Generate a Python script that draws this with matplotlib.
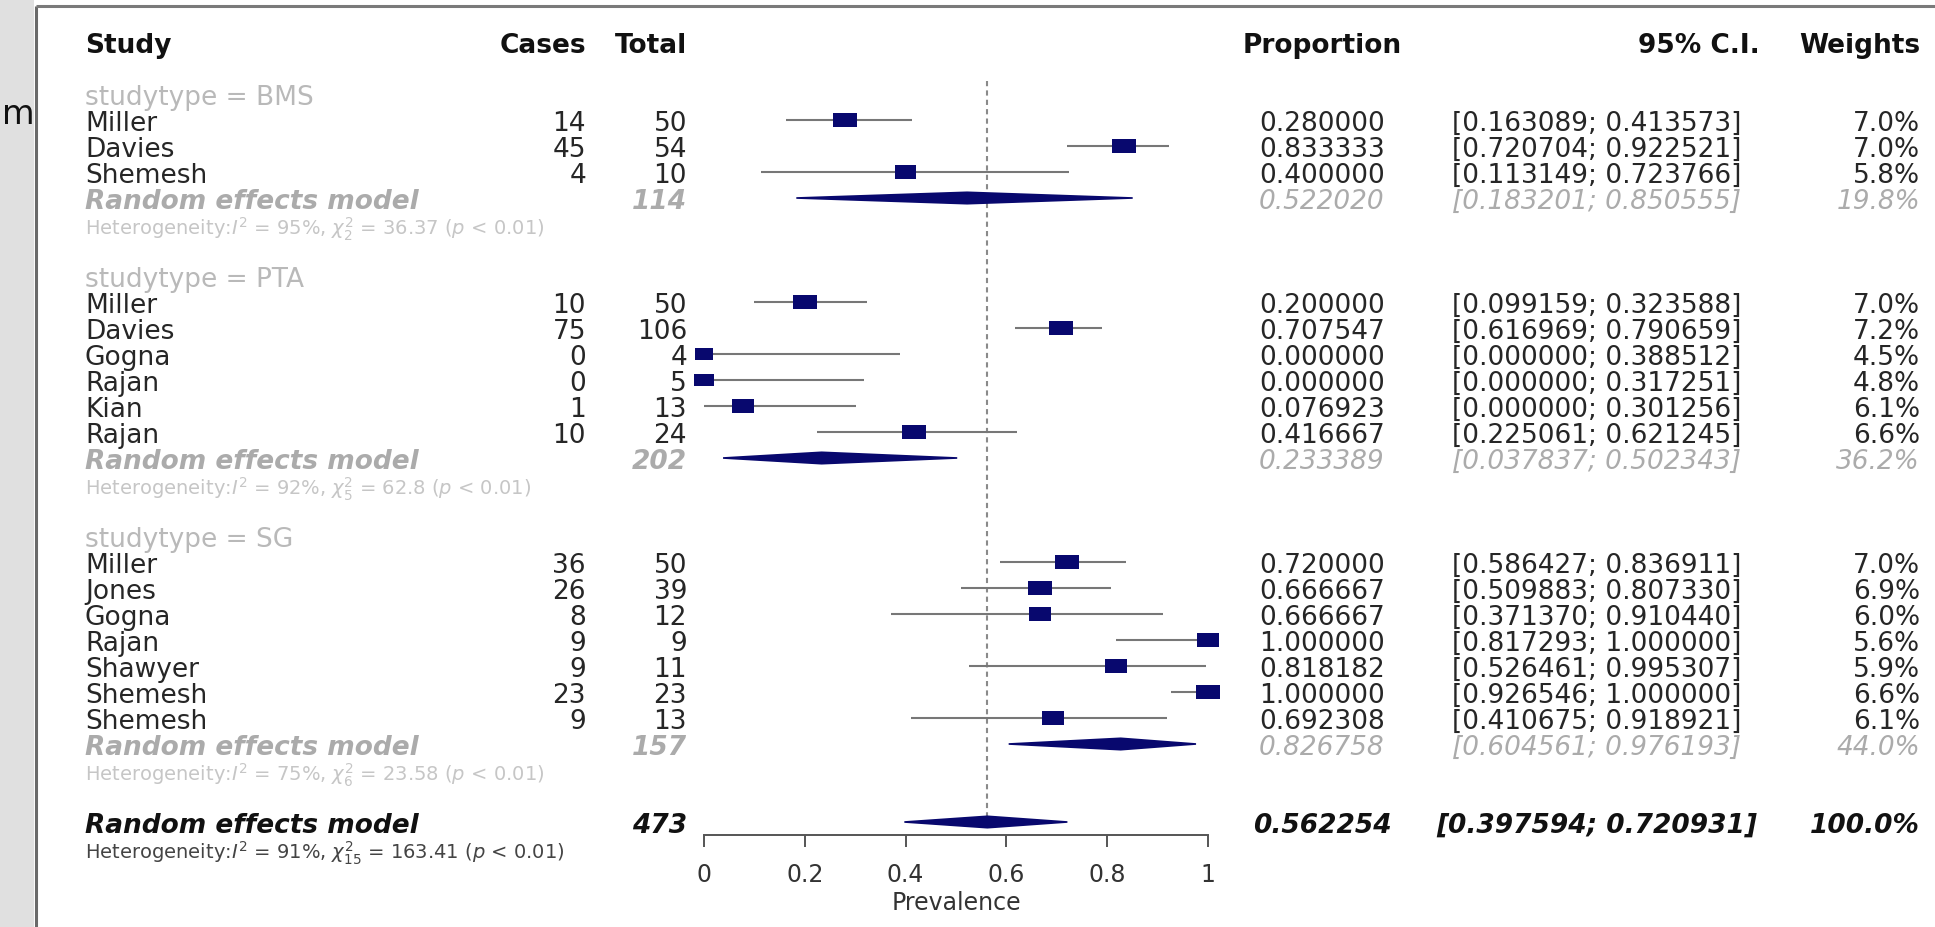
import matplotlib.pyplot as plt
from matplotlib.patches import Rectangle, Polygon
import numpy as np

plt.rcParams['font.family'] = ['DejaVu Sans']
plt.rcParams['mathtext.fontset'] = 'dejavusans'

# ---- data ----
group_names = ['BMS', 'PTA', 'SG']

bms_study = ['Miller', 'Davies', 'Shemesh']
bms_cases = [14, 45, 4]
bms_total = [50, 54, 10]
bms_prop = [0.280000, 0.833333, 0.400000]
bms_lower = [0.163089, 0.720704, 0.113149]
bms_upper = [0.413573, 0.922521, 0.723766]
bms_weight = [7.0, 7.0, 5.8]

pta_study = ['Miller', 'Davies', 'Gogna', 'Rajan', 'Kian', 'Rajan']
pta_cases = [10, 75, 0, 0, 1, 10]
pta_total = [50, 106, 4, 5, 13, 24]
pta_prop = [0.200000, 0.707547, 0.000000, 0.000000, 0.076923, 0.416667]
pta_lower = [0.099159, 0.616969, 0.000000, 0.000000, 0.000000, 0.225061]
pta_upper = [0.323588, 0.790659, 0.388512, 0.317251, 0.301256, 0.621245]
pta_weight = [7.0, 7.2, 4.5, 4.8, 6.1, 6.6]

sg_study = ['Miller', 'Jones', 'Gogna', 'Rajan', 'Shawyer', 'Shemesh', 'Shemesh']
sg_cases = [36, 26, 8, 9, 9, 23, 9]
sg_total = [50, 39, 12, 9, 11, 23, 13]
sg_prop = [0.720000, 0.666667, 0.666667, 1.000000, 0.818182, 1.000000, 0.692308]
sg_lower = [0.586427, 0.509883, 0.371370, 0.817293, 0.526461, 0.926546, 0.410675]
sg_upper = [0.836911, 0.807330, 0.910440, 1.000000, 0.995307, 1.000000, 0.918921]
sg_weight = [7.0, 6.9, 6.0, 5.6, 5.9, 6.6, 6.1]

# random effects per subgroup
group_total = [114, 202, 157]
group_prop = [0.522020, 0.233389, 0.826758]
group_lower = [0.183201, 0.037837, 0.604561]
group_upper = [0.850555, 0.502343, 0.976193]
group_weight = [19.8, 36.2, 44.0]
group_i2 = [95, 92, 75]
group_df = [2, 5, 6]
group_q = ['36.37', '62.8', '23.58']

overall_total = 473
overall_prop = 0.562254
overall_lower = 0.397594
overall_upper = 0.720931
overall_weight = 100.0
overall_i2 = 91
overall_df = 15
overall_q = '163.41'

xticks = [0, 0.2, 0.4, 0.6, 0.8, 1]
xtick_labels = ['0', '0.2', '0.4', '0.6', '0.8', '1']

groups = [
    (bms_study, bms_cases, bms_total, bms_prop, bms_lower, bms_upper, bms_weight),
    (pta_study, pta_cases, pta_total, pta_prop, pta_lower, pta_upper, pta_weight),
    (sg_study, sg_cases, sg_total, sg_prop, sg_lower, sg_upper, sg_weight),
]

# ---- layout (pixels of the 1935x928 canvas) ----
W, H = 1935, 928
X0_PX, X1_PX = 704, 1208        # forest axis 0 .. 1
ROW0_PX, ROW_H = 95, 26         # first row centre, row height
AXIS_PX = 836                   # bottom spine
TOP_PX = 4
row_bottom = (AXIS_PX - ROW0_PX) / ROW_H
row_top = (TOP_PX - ROW0_PX) / ROW_H

STUDY_X, CASES_X, TOTAL_X = 85, 586, 687
PROP_X, CI_X, WEIGHT_X = 1322, 1597, 1920

NAVY = '#08086e'
FS = 19        # main text size
FS_HET = 14
off_main = 0.37
off_het = 0.41

c_head = '#111111'
c_text = '#262626'
c_group = '#b9b9b9'
c_re = '#ababab'
c_het = '#c6c6c6'

fig = plt.figure(figsize=(W / 100, H / 100), dpi=100)
fig.patch.set_facecolor('white')

# background: grey strip and frame
bg = fig.add_axes([0, 0, 1, 1])
bg.set_xlim(0, W)
bg.set_ylim(H, 0)
bg.axis('off')
bg.add_patch(Rectangle((0, 0), 34, H, color='#e0e0e0', lw=0))
bg.plot([36, 36], [7, H], color='#6a6a6a', lw=2.2, solid_capstyle='butt')
bg.plot([36, W], [7, 7], color='#7a7a7a', lw=2.2, solid_capstyle='butt')
bg.text(2, 114, 'm', fontsize=24, ha='left', va='center', color='#111111')

ax_pos = [0, (H - AXIS_PX) / H, 1, (AXIS_PX - TOP_PX) / H]
tax = fig.add_axes(ax_pos)
tax.set_xlim(0, W)
tax.set_ylim(row_bottom, row_top)
tax.axis('off')

fax = fig.add_axes([X0_PX / W, ax_pos[1], (X1_PX - X0_PX) / W, ax_pos[3]])
fax.set_xlim(0, 1)
fax.set_ylim(row_bottom, row_top)
fax.patch.set_visible(False)
for s in ['top', 'right', 'left']:
    fax.spines[s].set_visible(False)
fax.spines['bottom'].set_bounds(0, 1)
fax.spines['bottom'].set_color('#555555')
fax.spines['bottom'].set_linewidth(1.4)
fax.set_yticks([])
fax.set_xticks(xticks)
fax.set_xticklabels(xtick_labels)
fax.tick_params(axis='x', direction='out', length=8.6, width=1.4, color='#555555',
                labelsize=17, labelcolor='#333333', pad=11)
fax.set_xlabel('Prevalence', fontsize=17, color='#333333', labelpad=3)


def txt(x, row, s, ha='left', color=c_text, size=FS, off=off_main, **kw):
    tax.text(x, row + off, s, ha=ha, va='baseline', color=color, fontsize=size, **kw)


def square(p, lo, hi, w, row):
    fax.hlines(row, lo, hi, color='#777777', lw=1.5, zorder=2)
    s = np.sqrt(w / 7.0)
    hw, hh = 0.0235 * s, 0.28 * s
    fax.add_patch(Rectangle((p - hw, row - hh), 2 * hw, 2 * hh, color=NAVY,
                            lw=0, zorder=3, clip_on=False))


def diamond(p, lo, hi, row):
    fax.add_patch(Polygon([(lo, row), (p, row - 0.22), (hi, row), (p, row + 0.22)],
                          closed=True, facecolor=NAVY, edgecolor=NAVY, lw=1.2,
                          zorder=3, clip_on=False))


def ci(lo, hi):
    return f'[{lo:.6f}; {hi:.6f}]'


# header
txt(STUDY_X, -2, 'Study', color=c_head, weight='bold')
txt(CASES_X, -2, 'Cases', ha='right', color=c_head, weight='bold')
txt(TOTAL_X, -2, 'Total', ha='right', color=c_head, weight='bold')
txt(PROP_X, -2, 'Proportion', ha='center', color=c_head, weight='bold')
txt(1760, -2, '95% C.I.', ha='right', color=c_head, weight='bold')
txt(WEIGHT_X, -2, 'Weights', ha='right', color=c_head, weight='bold')

row = 0
for g, (study, cases, total, prop, lower, upper, weight) in enumerate(groups):
    txt(STUDY_X, row, f'studytype = {group_names[g]}', color=c_group)
    row += 1
    for i in range(len(study)):
        txt(STUDY_X, row, study[i])
        txt(CASES_X, row, str(cases[i]), ha='right')
        txt(TOTAL_X, row, str(total[i]), ha='right')
        txt(PROP_X, row, f'{prop[i]:.6f}', ha='center')
        txt(CI_X, row, ci(lower[i], upper[i]), ha='center')
        txt(WEIGHT_X, row, f'{weight[i]:.1f}%', ha='right')
        square(prop[i], lower[i], upper[i], weight[i], row)
        row += 1
    # subgroup random effects
    txt(STUDY_X, row, 'Random effects model', color=c_re, weight='bold', style='italic')
    txt(TOTAL_X, row, str(group_total[g]), ha='right', color=c_re, weight='bold', style='italic')
    txt(PROP_X, row, f'{group_prop[g]:.6f}', ha='center', color=c_re, style='italic')
    txt(CI_X, row, ci(group_lower[g], group_upper[g]), ha='center', color=c_re, style='italic')
    txt(WEIGHT_X, row, f'{group_weight[g]:.1f}%', ha='right', color=c_re, style='italic')
    diamond(group_prop[g], group_lower[g], group_upper[g], row)
    row += 1
    het = (r'Heterogeneity:$I^2$ = ' + f'{group_i2[g]}%, ' + r'$\chi^2_{' + str(group_df[g])
           + '}$ = ' + group_q[g] + r' ($p$ < 0.01)')
    txt(STUDY_X, row, het, color=c_het, size=FS_HET, off=off_het)
    row += 2

# overall
txt(STUDY_X, row, 'Random effects model', color=c_head, weight='bold', style='italic')
txt(TOTAL_X, row, str(overall_total), ha='right', color=c_head, weight='bold', style='italic')
txt(PROP_X, row, f'{overall_prop:.6f}', ha='center', color=c_head, weight='bold', style='italic')
txt(CI_X, row, ci(overall_lower, overall_upper), ha='center', color=c_head,
    weight='bold', style='italic')
txt(WEIGHT_X, row, f'{overall_weight:.1f}%', ha='right', color=c_head, weight='bold', style='italic')
diamond(overall_prop, overall_lower, overall_upper, row)
fax.vlines(overall_prop, -0.5, row, color='#8a8a8a', lw=1.5,
           linestyles=(0, (2.5, 2)), zorder=1)
het = (r'Heterogeneity:$I^2$ = ' + f'{overall_i2}%, ' + r'$\chi^2_{' + str(overall_df)
       + '}$ = ' + overall_q + r' ($p$ < 0.01)')
txt(STUDY_X, row + 1, het, color='#444444', size=FS_HET, off=off_het)

plt.savefig('out.png', dpi=100, facecolor='white')
plt.close()
